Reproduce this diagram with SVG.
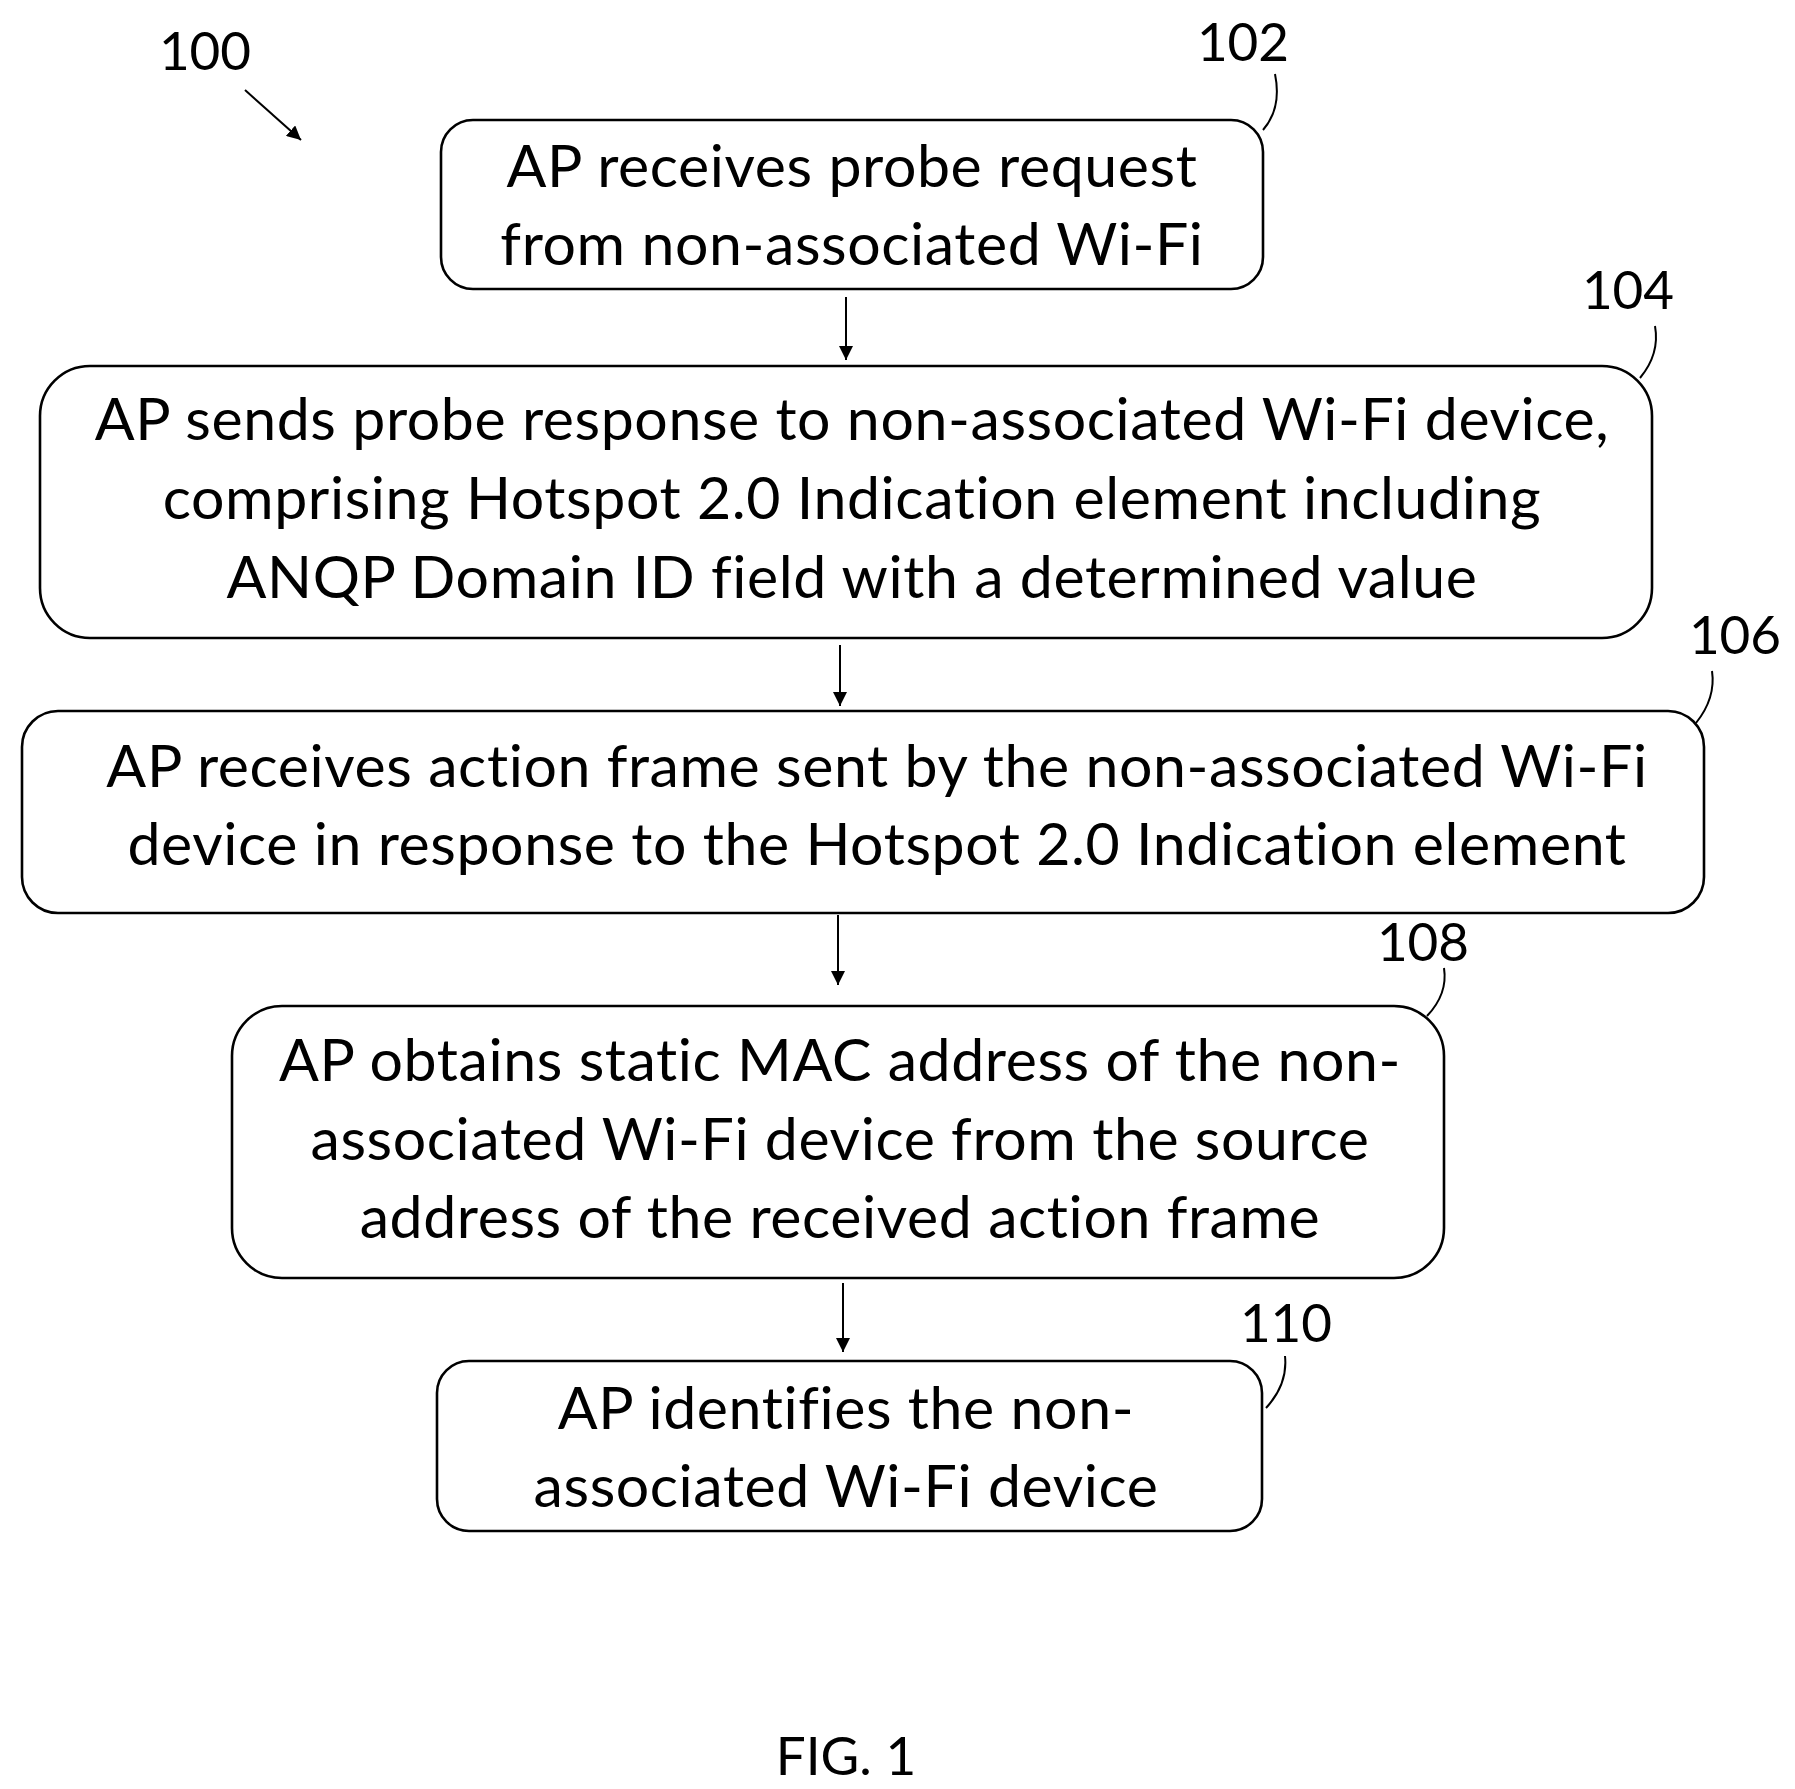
<svg xmlns="http://www.w3.org/2000/svg" width="1795" height="1789" viewBox="0 0 1795 1789">
<style>
.b{fill:#fff;stroke:#000;stroke-width:2.6}
.t{font-family:Lato,"Liberation Sans",sans-serif;font-size:59px;letter-spacing:0.6px;font-variant-ligatures:none;text-anchor:middle;fill:#000}
.l{font-family:Lato,"Liberation Sans",sans-serif;font-size:53px;text-anchor:middle;fill:#000}
.c{fill:none;stroke:#000;stroke-width:2}
.a{fill:none;stroke:#000;stroke-width:2;marker-end:url(#ah)}
</style>
<defs><marker id="ah" viewBox="0 0 10 10" refX="10" refY="5" markerWidth="7" markerHeight="7" markerUnits="strokeWidth" orient="auto"><path d="M0,0 L10,5 L0,10 z" fill="#000"/></marker></defs>
<rect width="1795" height="1789" fill="#fff"/>
<g id="n102"><rect class="b" x="441" y="120" width="822" height="169" rx="32"/>
<text class="t" x="852" y="187">AP receives probe request</text><text class="t" x="852" y="265">from non-associated Wi-Fi</text></g>
<g id="n104"><rect class="b" x="40" y="366" width="1612" height="272" rx="50"/>
<text class="t" x="852" y="440">AP sends probe response to non-associated Wi-Fi device,</text>
<text class="t" x="852" y="519">comprising Hotspot 2.0 Indication element including</text>
<text class="t" x="852" y="598">ANQP Domain ID field with a determined value</text></g>
<g id="n106"><rect class="b" x="22" y="711" width="1682" height="202" rx="36"/>
<text class="t" x="877" y="787">AP receives action frame sent by the non-associated Wi-Fi</text>
<text class="t" x="877" y="865">device in response to the Hotspot 2.0 Indication element</text></g>
<g id="n108"><rect class="b" x="232" y="1006" width="1212" height="272" rx="50"/>
<text class="t" x="840" y="1081">AP obtains static MAC address of the non-</text>
<text class="t" x="840" y="1160">associated Wi-Fi device from the source</text>
<text class="t" x="840" y="1238">address of the received action frame</text></g>
<g id="n110"><rect class="b" x="437" y="1361" width="825" height="170" rx="32"/>
<text class="t" x="846" y="1429">AP identifies the non-</text>
<text class="t" x="846" y="1507">associated Wi-Fi device</text></g>
<g id="labels">
<text class="l" x="205" y="70">100</text><text class="l" x="1243" y="61">102</text>
<text class="l" x="1628" y="309">104</text><text class="l" x="1735" y="654">106</text>
<text class="l" x="1423" y="961">108</text><text class="l" x="1286" y="1342">110</text>
<text class="l" x="846" y="1775">FIG. 1</text></g>
<g id="connectors">
<line class="a" x1="846" y1="297" x2="846" y2="360"/>
<line class="a" x1="840" y1="645" x2="840" y2="706"/>
<line class="a" x1="838" y1="915" x2="838" y2="985"/>
<line class="a" x1="843" y1="1283" x2="843" y2="1352"/>
<line class="a" x1="245" y1="90" x2="301" y2="140"/>
<path class="c" d="M1263,130 Q1282,108 1275,74"/>
<path class="c" d="M1640,378 Q1660,354 1655,326"/>
<path class="c" d="M1696,723 Q1716,698 1712,671"/>
<path class="c" d="M1427,1016 Q1448,994 1444,968"/>
<path class="c" d="M1266,1408 Q1288,1384 1285,1356"/>
</g>
</svg>
